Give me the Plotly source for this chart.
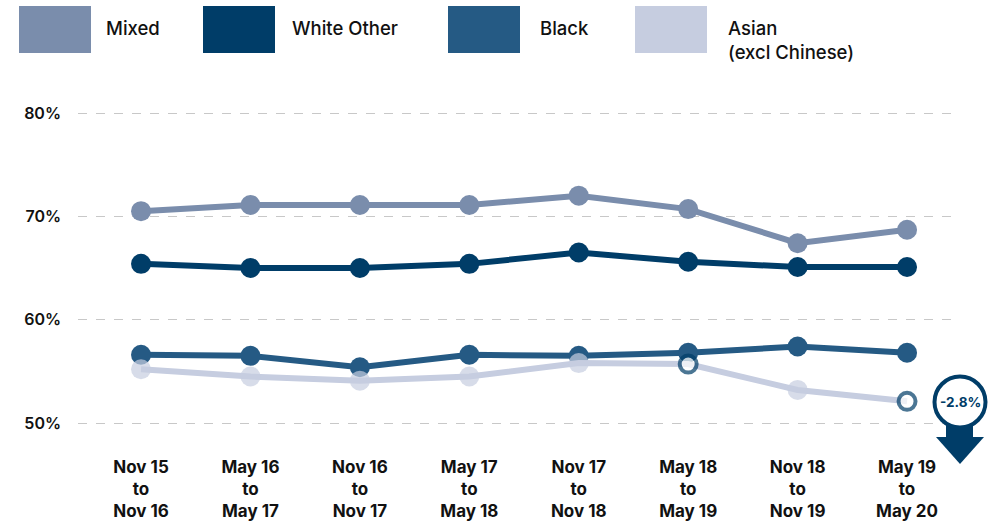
import plotly.graph_objects as go

# ---- data ----
periods = ["Nov 15<br>to<br>Nov 16", "May 16<br>to<br>May 17", "Nov 16<br>to<br>Nov 17",
           "May 17<br>to<br>May 18", "Nov 17<br>to<br>Nov 18", "May 18<br>to<br>May 19",
           "Nov 18<br>to<br>Nov 19", "May 19<br>to<br>May 20"]
mixed = [70.5, 71.1, 71.1, 71.1, 72.0, 70.7, 67.4, 68.7]
white_other = [65.4, 65.0, 65.0, 65.4, 66.5, 65.6, 65.1, 65.1]
black = [56.6, 56.5, 55.4, 56.6, 56.5, 56.8, 57.4, 56.8]
asian = [55.2, 54.5, 54.1, 54.5, 55.8, 55.7, 53.2, 52.1]
asian_highlight = [5, 7]
change_label = "-2.8%"
y_ticks = [50, 60, 70, 80]
y_tick_text = ["50%", "60%", "70%", "80%"]

series = [
    ("Mixed", mixed, "#7a8dac"),
    ("White Other", white_other, "#003d68"),
    ("Black", black, "#255a84"),
    ("Asian<br>(excl Chinese)", asian, "#c6cde0"),
]
DARK = "#003d68"
FONT = "Inter"

W, H = 1001, 523
PL, PR, PT, PB = 78, 960, 100, 440          # plot area in screen pixels
ML, MR, MT, MB = PL, W - PR, PT, H - PB
PW, PH = PR - PL, PB - PT


def px(x):
    return (x - PL) / PW


def py(y):
    return (PB - y) / PH


fig = go.Figure()
xs = list(range(len(periods)))
for name, vals, col in series:
    n = len(vals)
    if vals is asian:
        mcol = ["white" if i in asian_highlight else col for i in range(n)]
        lcol = [DARK if i in asian_highlight else col for i in range(n)]
        lw = [4 if i in asian_highlight else 0 for i in range(n)]
        msize = [17 if i in asian_highlight else 20 for i in range(n)]
    else:
        mcol, lcol, lw, msize = col, col, 0, 20
    fig.add_trace(go.Scatter(
        x=xs, y=vals, mode="lines+markers", name=name,
        line=dict(color=col, width=6),
        marker=dict(size=msize, color=mcol, line=dict(color=lcol, width=lw)),
        showlegend=False, hoverinfo="skip"))

shapes = []
annotations = []
# custom legend
legend_pos = [(19, 91, 104), (203, 275, 290), (448, 520, 538), (635, 707, 726)]
for (name, vals, col), (x0, x1, tx) in zip(series, legend_pos):
    shapes.append(dict(type="rect", xref="paper", yref="paper",
                       x0=px(x0), x1=px(x1), y0=py(53), y1=py(6),
                       fillcolor=col, line=dict(width=0)))
    annotations.append(dict(text=name, xref="paper", yref="paper",
                            x=px(tx), y=py(15), xanchor="left", yanchor="top",
                            showarrow=False, align="left",
                            font=dict(family=FONT, size=18.5, color="#111111", weight=500)))

# change callout
cx, cy, r = 960, 402, 25.5
shapes.append(dict(type="rect", xref="paper", yref="paper",
                   x0=px(946), x1=px(973), y0=py(440), y1=py(420),
                   fillcolor=DARK, line=dict(width=0)))
shapes.append(dict(type="path", xref="paper", yref="paper",
                   path=f"M {px(936)},{py(437)} L {px(984)},{py(437)} L {px(960)},{py(464)} Z",
                   fillcolor=DARK, line=dict(width=0)))
shapes.append(dict(type="circle", xref="paper", yref="paper",
                   x0=px(cx - r), x1=px(cx + r), y0=py(cy + r), y1=py(cy - r),
                   fillcolor="white", line=dict(color=DARK, width=4)))
annotations.append(dict(text=change_label, xref="paper", yref="paper",
                        x=px(cx), y=py(cy), xanchor="center", yanchor="middle",
                        showarrow=False,
                        font=dict(family=FONT, size=13.5, color=DARK, weight=700)))

fig.update_layout(
    width=W, height=H,
    margin=dict(l=ML, r=MR, t=MT, b=MB, pad=0, autoexpand=False),
    paper_bgcolor="white", plot_bgcolor="white",
    shapes=shapes, annotations=annotations,
    xaxis=dict(range=[-0.576, 7.484], tickmode="array", tickvals=xs, ticktext=periods,
               showgrid=False, zeroline=False, showline=False, ticks="",
               ticklabelstandoff=15, automargin=False,
               tickfont=dict(family=FONT, size=17, color="#111111", weight=700)),
    yaxis=dict(range=[48.355, 81.258], tickmode="array", tickvals=y_ticks, ticktext=y_tick_text,
               showgrid=True, gridcolor="#c8c8c8", griddash="dash", gridwidth=1,
               zeroline=False, showline=False, ticks="", ticklabelstandoff=16,
               automargin=False,
               tickfont=dict(family=FONT, size=16, color="#111111", weight=600)),
)

fig.write_html("out.html", config={"displayModeBar": False},
               post_script="document.body.style.margin='0px';document.body.style.overflow='hidden';")
